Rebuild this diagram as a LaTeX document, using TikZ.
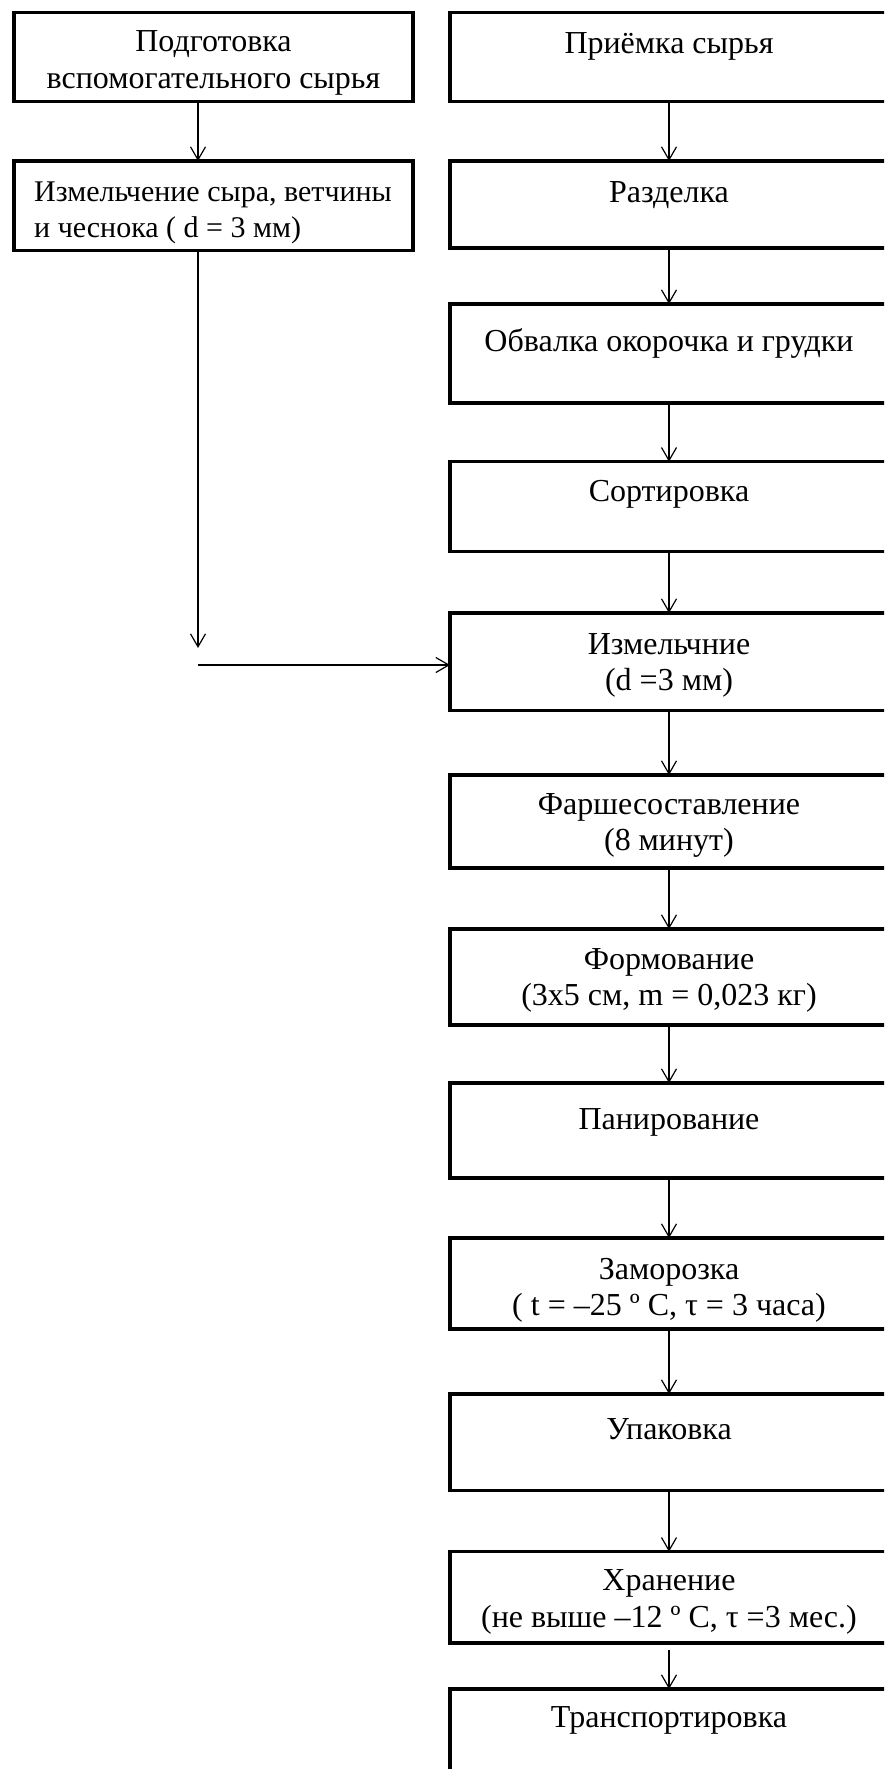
\documentclass[tikz,border=0pt]{standalone}
\usepackage{fontspec}
\setmainfont{Liberation Serif}
\usetikzlibrary{arrows.meta}
\begin{document}
\begin{tikzpicture}[x=1pt,y=-1pt,
  box/.style={draw, line width=3.5pt, inner sep=0pt, outer sep=0pt},
  lab/.style={anchor=north, align=center, inner sep=0pt, font=\fontsize{32}{36.7}\selectfont},
  labl/.style={anchor=north west, align=left, inner sep=0pt, font=\fontsize{30}{36.7}\selectfont},
  arr/.style={line width=1.2pt, -{Straight Barb[length=13pt,width=15pt]}}
]
\useasboundingbox (0,0) rectangle (884,1769);
\clip (0,0) rectangle (884,1769);

% left column
\node[box, minimum width=399pt, minimum height=89pt,
  label={[lab,yshift=-13.3pt]north:{\strut Подготовка\\вспомогательного сырья}}] (L1) at (213.5,57.2) {};
\node[box, minimum width=399pt, minimum height=89.7pt,
  label={[labl,xshift=20pt,yshift=-14.3pt]north west:{\strut Измельчение сыра, ветчины\\и чеснока ( d = 3 мм)}}] (L2) at (213.5,205.85) {};

% right column
\node[box, minimum width=438pt, minimum height=89pt,
  label={[lab,yshift=-15.3pt]north:{\strut Приёмка сырья}}] (R1) at (669,57.2) {};
\node[box, minimum width=438pt, minimum height=87pt,
  label={[lab,yshift=-15.3pt]north:{\strut Разделка}}] (R2) at (669,204.5) {};
\node[box, minimum width=438pt, minimum height=99pt,
  label={[lab,yshift=-21.3pt]north:{\strut Обвалка окорочка и грудки}}] (R3) at (669,353.5) {};
\node[box, minimum width=438pt, minimum height=90pt,
  label={[lab,yshift=-14.3pt]north:{\strut Сортировка}}] (R4) at (669,506.7) {};
\node[box, minimum width=438pt, minimum height=97.7pt,
  label={[lab,yshift=-15.3pt]north:{\strut Измельчние\\(d =3 мм)}}] (R5) at (669,661.85) {};
\node[box, minimum width=438pt, minimum height=93pt,
  label={[lab,yshift=-13.3pt]north:{\strut Фаршесоставление\\(8 минут)}}] (R6) at (669,821.5) {};
\node[box, minimum width=438pt, minimum height=96pt,
  label={[lab,yshift=-14.3pt]north:{\strut Формование\\(3х5 см, m = 0,023 кг)}}] (R7) at (669,977) {};
\node[box, minimum width=438pt, minimum height=95pt,
  label={[lab,yshift=-20.3pt]north:{\strut Панирование}}] (R8) at (669,1130.5) {};
\node[box, minimum width=438pt, minimum height=91pt,
  label={[lab,yshift=-15.3pt]north:{\strut Заморозка\\( t = –25 º C, τ = 3 часа)}}] (R9) at (669,1283.5) {};
\node[box, minimum width=438pt, minimum height=96.7pt,
  label={[lab,yshift=-19.3pt]north:{\strut Упаковка}}] (R10) at (669,1442.35) {};
\node[box, minimum width=438pt, minimum height=91.3pt,
  label={[lab,yshift=-13.3pt]north:{\strut Хранение\\(не выше –12 º C, τ =3 мес.)}}] (R11) at (669,1597.35) {};
\node[box, minimum width=438pt, minimum height=91pt,
  label={[lab,yshift=-12.3pt]north:{\strut Транспортировка}}] (R12) at (669,1734.5) {};

% connectors
\coordinate (lx) at (198,0);
\coordinate (vend) at (198,648);
\coordinate (hstart) at (198,665);
\draw[arr] (L1.south -| lx) -- (L2.north -| lx);
\draw[arr] (L2.south -| lx) -- (vend);
\draw[arr] (hstart) -- (hstart -| R5.west);

\draw[arr] (R1.south) -- (R2.north);
\draw[arr] (R2.south) -- (R3.north);
\draw[arr] (R3.south) -- (R4.north);
\draw[arr] (R4.south) -- (R5.north);
\draw[arr] (R5.south) -- (R6.north);
\draw[arr] (R6.south) -- (R7.north);
\draw[arr] (R7.south) -- (R8.north);
\draw[arr] (R8.south) -- (R9.north);
\draw[arr] (R9.south) -- (R10.north);
\draw[arr] (R10.south) -- (R11.north);
\draw[arr, shorten <=7pt] (R11.south) -- (R12.north);
\end{tikzpicture}
\end{document}
